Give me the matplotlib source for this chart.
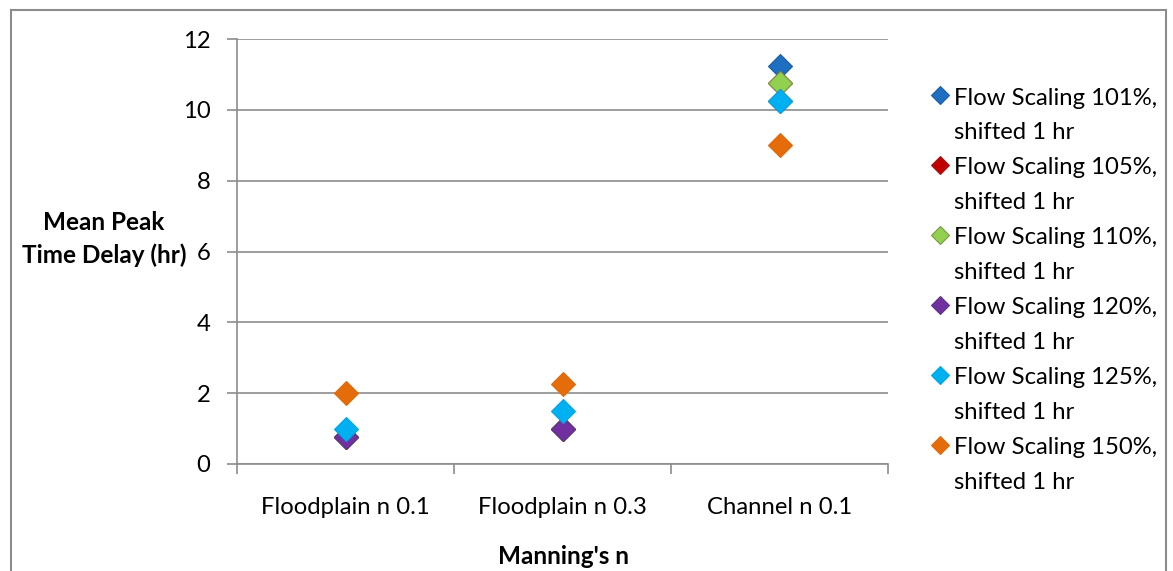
import matplotlib
matplotlib.use("Agg")
import matplotlib.pyplot as plt
from matplotlib.lines import Line2D
from matplotlib.legend_handler import HandlerLine2D

plt.rcParams['font.family'] = ['Lato', 'DejaVu Sans']

categories = ["Floodplain n 0.1", "Floodplain n 0.3", "Channel n 0.1"]
series_names = [
    "Flow Scaling 101%,\nshifted 1 hr",
    "Flow Scaling 105%,\nshifted 1 hr",
    "Flow Scaling 110%,\nshifted 1 hr",
    "Flow Scaling 120%,\nshifted 1 hr",
    "Flow Scaling 125%,\nshifted 1 hr",
    "Flow Scaling 150%,\nshifted 1 hr",
]
s101 = [0.75, 1.0, 11.25]
s105 = [0.75, 1.0, 10.75]
s110 = [0.75, 1.0, 10.75]
s120 = [0.75, 1.0, 10.25]
s125 = [1.0, 1.5, 10.25]
s150 = [2.0, 2.25, 9.0]
series_values = [s101, s105, s110, s120, s125, s150]
yticks = [0, 2, 4, 6, 8, 10, 12]

face = ["#1F6FC0", "#C00000", "#92D050", "#7030A0", "#00B0F0", "#E46C0A"]
edge = ["#1A5EA5", "#A31A1A", "#7A9A45", "#5E3487", "#00A6E6", "#E06A0A"]

FS = 17.2


class TopHandler(HandlerLine2D):
    """Place the legend marker at the first line of a two-line label."""
    def create_artists(self, legend, orig_handle, xdescent, ydescent, width,
                       height, fontsize, trans):
        arts = super().create_artists(legend, orig_handle, xdescent, ydescent,
                                      width, height, fontsize, trans)
        for a in arts:
            a.set_ydata([y + 14.6 for y in a.get_ydata()])
        return arts


W, H = 1173, 571
fig = plt.figure(figsize=(W / 100, H / 100), dpi=100)
ax = fig.add_axes([237 / W, 1 - 464 / H, 651 / W, 425 / H])

xpos = [i + 0.5 for i in range(len(categories))]
handles = []
for vals, name, fc, ec in zip(series_values, series_names, face, edge):
    ln, = ax.plot(xpos, vals, linestyle='none', marker='D', markersize=12,
                  markerfacecolor=fc, markeredgecolor=ec, markeredgewidth=0.8,
                  label=name, zorder=3)
    handles.append(ln)

ax.set_xlim(0, 3)
ax.set_ylim(0, 12)
ax.set_yticks(yticks)
ax.set_yticklabels([str(v) for v in yticks])
ax.set_xticks([0, 1, 2, 3])
ax.set_xticklabels([])
ax.set_xticks(xpos, minor=True)
ax.set_xticklabels(categories, minor=True)
ax.tick_params(axis='x', which='minor', length=0, pad=24, labelsize=FS)
ax.tick_params(axis='x', which='major', length=7, color='#8c8c8c', width=1.2)
ax.tick_params(axis='y', length=7, color='#8c8c8c', width=1.2, pad=12, labelsize=FS)
ax.yaxis.grid(True, color='#8c8c8c', linewidth=1.2)
ax.set_axisbelow(True)
for s in ['top', 'right']:
    ax.spines[s].set_visible(False)
for s in ['left', 'bottom']:
    ax.spines[s].set_color('#8c8c8c')
    ax.spines[s].set_linewidth(1.2)

fig.text(104 / W, 1 - 239 / H, "Mean Peak\nTime Delay (hr)", ha='center', va='center',
         fontsize=17.5, fontweight='bold', linespacing=1.5)
fig.text(563 / W, 1 - 556 / H, "Manning's n", ha='center', va='center',
         fontsize=17.5, fontweight='bold')

leg = fig.legend(handles=handles, loc='upper left', bbox_to_anchor=(923 / W, 1 - 78 / H),
                 frameon=False, fontsize=FS, handlelength=0.6, handletextpad=0.3,
                 labelspacing=0.6, borderaxespad=0, markerscale=0.75,
                 handler_map={Line2D: TopHandler()})
for t in leg.get_texts():
    t.set_linespacing(1.8)

border = dict(color='#8c8c8c', linewidth=1.5, transform=fig.transFigure)
fig.add_artist(Line2D([11 / W, 11 / W], [0, 1 - 10 / H], **border))
fig.add_artist(Line2D([11 / W, 1166 / W], [1 - 10 / H, 1 - 10 / H], **border))
fig.add_artist(Line2D([1166 / W, 1166 / W], [0, 1 - 10 / H], **border))

fig.savefig("out.png", dpi=100)
